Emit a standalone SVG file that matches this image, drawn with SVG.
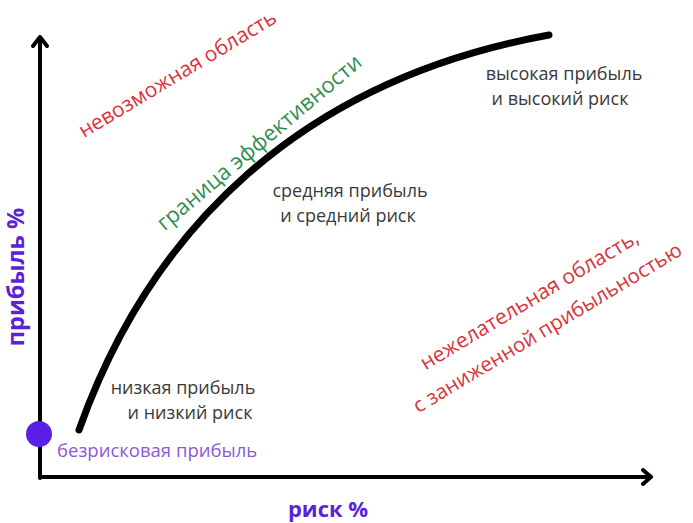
<svg xmlns="http://www.w3.org/2000/svg" width="693" height="523" viewBox="0 0 693 523">
<style>
text{font-family:"Open Sans","Noto Sans","Liberation Sans",sans-serif}
.lbl{font-size:18px;fill:#3a3a3a;text-anchor:middle}
.red{font-size:21px;fill:#d8343c;text-anchor:middle}
.grn{font-size:22px;fill:#2f8f50;text-anchor:middle}
.ax{font-size:22px;font-weight:bold;fill:#5b22d8;text-anchor:middle}
.axis{stroke:#000;stroke-width:4;fill:none;stroke-linecap:round;stroke-linejoin:round}
</style>
<rect width="693" height="523" fill="#fff"/>
<g id="connectors">
<path class="axis" d="M40,478 V37 M33,46 L40,37 L47,46"/>
<path class="axis" d="M40,477 H651 M643,470 L651,477 L643,484"/>
<path id="frontier" d="M79,430 C150,230 300,80 549,35" stroke="#000" stroke-width="7" fill="none" stroke-linecap="round"/>
</g>
<g id="riskfree">
<circle cx="39" cy="434" r="13" fill="#5a1fe6"/>
<text x="57" y="457" style="font-size:18.5px;fill:#8a5ad8">безрисковая прибыль</text>
</g>
<g id="low"><text class="lbl" x="183" y="394">низкая прибыль</text><text class="lbl" x="190" y="419">и низкий риск</text></g>
<g id="mid"><text class="lbl" x="350" y="197">средняя прибыль</text><text class="lbl" x="348" y="222">и средний риск</text></g>
<g id="high"><text class="lbl" x="564" y="80">высокая прибыль</text><text class="lbl" x="560" y="105">и высокий риск</text></g>
<g id="impossible"><text class="red" transform="translate(181,80) rotate(-31)">невозможная область</text></g>
<g id="efficient"><text class="grn" transform="translate(264,148) rotate(-40)">граница эффективности</text></g>
<g id="undesirable" transform="translate(533,306) rotate(-31)">
<text class="red" x="0" y="0">нежелательная область,</text>
<text class="red" x="1" y="33" style="font-size:20.5px">с заниженной прибыльностью</text>
</g>
<g id="axislabels">
<text class="ax" x="328" y="517">риск %</text>
<text class="ax" style="font-size:23.5px" transform="translate(24,277) rotate(-90)">прибыль %</text>
</g>
</svg>
